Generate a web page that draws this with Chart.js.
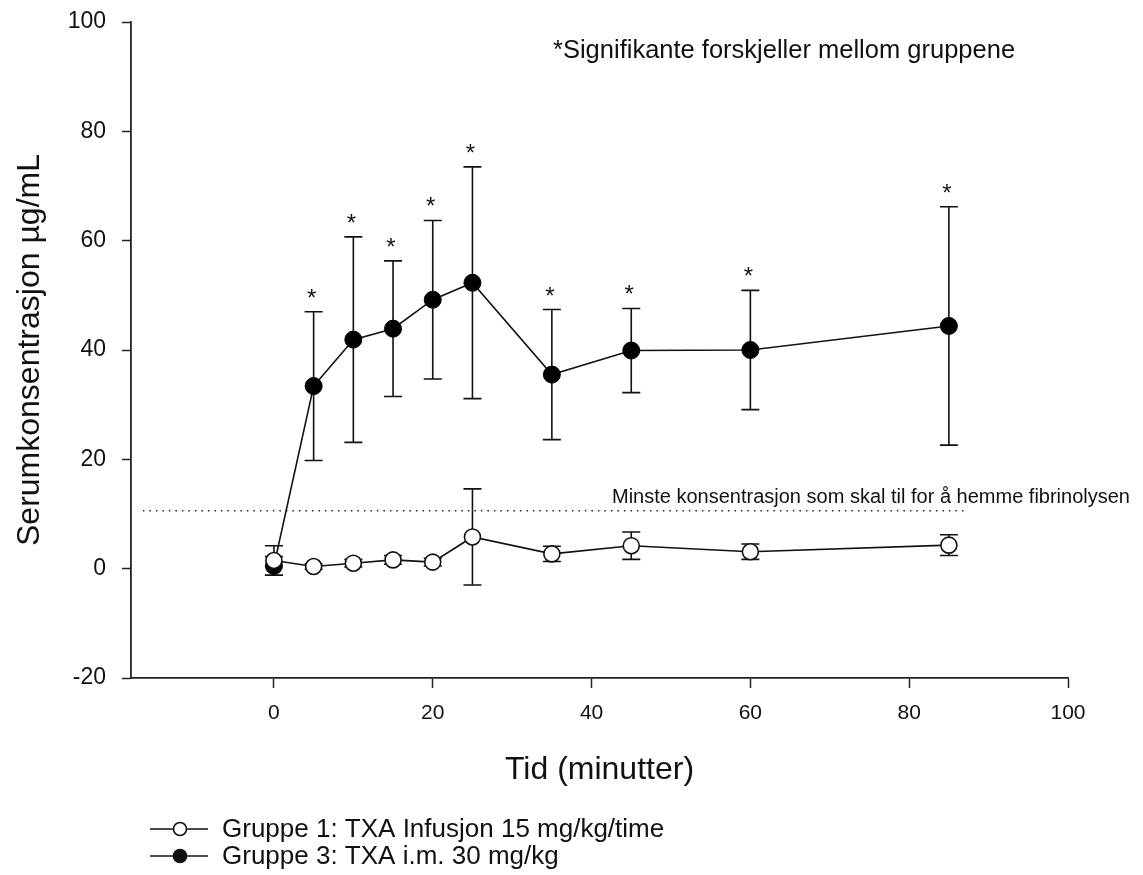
<!DOCTYPE html>
<html>
<head>
<meta charset="utf-8">
<script src="https://cdn.jsdelivr.net/npm/chart.js@4.4.0/dist/chart.umd.min.js"></script>
<style>
  body { margin: 0; background: #fff; }
  #wrap { width: 1143px; height: 875px; }
</style>
</head>
<body>
<div id="wrap"><canvas id="txaChart" width="1143" height="875"></canvas></div>
<script>
// tid (minutter)
const tider = [0, 5, 10, 15, 20, 25, 35, 45, 60, 85];
// Gruppe 1: TXA infusjon
const gruppe1Snitt = [1.5, 0.4, 1.0, 1.6, 1.2, 5.8, 2.7, 4.2, 3.1, 4.3];
const gruppe1Sd = [2.7, 0.5, 0.7, 0.8, 0.7, 8.8, 1.4, 2.5, 1.4, 1.9];
// Gruppe 3: TXA i.m.
const gruppe3Snitt = [0.5, 33.4, 41.9, 43.9, 49.2, 52.3, 35.5, 39.9, 40.0, 44.4];
const gruppe3Sd = [1.7, 13.6, 18.8, 12.4, 14.5, 21.2, 11.9, 7.7, 10.9, 21.8];
// signifikante forskjeller (1 = stjerne)
const signifikant = [0, 1, 1, 1, 1, 1, 1, 1, 1, 1];
// minste konsentrasjon
const terskelVerdi = 10.6;
const terskelFraTil = [-16.5, 87];

const xTicks = [0, 20, 40, 60, 80, 100];
const yTicks = [-20, 0, 20, 40, 60, 80, 100];

const gruppeNavn = [
    'Gruppe 1: TXA Infusjon 15 mg/kg/time',
    'Gruppe 3: TXA i.m. 30 mg/kg'
];
const noteTekst = '*Signifikante forskjeller mellom gruppene';
const terskelTekst = 'Minste konsentrasjon som skal til for å hemme fibrinolysen';

const FONT = '"Liberation Sans", Arial, sans-serif';

function punkter(xs, ys) {
    return xs.map((x, i) => ({ x: x, y: ys[i] }));
}

// feilstolper tegnes under punktene
const errorBarPlugin = {
    id: 'errorBars',
    beforeDatasetsDraw(chart) {
        const ctx = chart.ctx;
        const xs = chart.scales.x;
        const ys = chart.scales.y;
        const sett = [[gruppe3Snitt, gruppe3Sd], [gruppe1Snitt, gruppe1Sd]];
        ctx.save();
        ctx.strokeStyle = '#111';
        ctx.lineWidth = 1.6;
        sett.forEach(([snitt, sd]) => {
            tider.forEach((t, i) => {
                const px = xs.getPixelForValue(t);
                const top = ys.getPixelForValue(snitt[i] + sd[i]);
                const bot = ys.getPixelForValue(snitt[i] - sd[i]);
                ctx.beginPath();
                ctx.moveTo(px, top);
                ctx.lineTo(px, bot);
                ctx.moveTo(px - 9, top);
                ctx.lineTo(px + 9, top);
                ctx.moveTo(px - 9, bot);
                ctx.lineTo(px + 9, bot);
                ctx.stroke();
            });
        });
        ctx.restore();
    }
};

// stjerner, tekster og forklaring
const annotPlugin = {
    id: 'annot',
    afterDraw(chart) {
        const ctx = chart.ctx;
        const xs = chart.scales.x;
        const ys = chart.scales.y;
        ctx.save();
        ctx.fillStyle = '#111';

        // stjerner over gruppe 3
        ctx.font = '24px ' + FONT;
        ctx.textAlign = 'center';
        ctx.textBaseline = 'alphabetic';
        tider.forEach((t, i) => {
            if (!signifikant[i]) return;
            const px = xs.getPixelForValue(t) - 2;
            const top = ys.getPixelForValue(gruppe3Snitt[i] + gruppe3Sd[i]);
            ctx.fillText('*', px, top - 19 + 13);
        });

        // merknad oppe til høyre
        ctx.textAlign = 'left';
        ctx.font = '25.5px ' + FONT;
        ctx.fillText(noteTekst, 553, 58);

        // terskeltekst
        ctx.font = '20px ' + FONT;
        ctx.fillText(terskelTekst, 612, 503);

        // forklaring
        const rader = [829, 856];
        ctx.font = '26px ' + FONT;
        ctx.textBaseline = 'middle';
        rader.forEach((y, i) => {
            ctx.strokeStyle = '#111';
            ctx.lineWidth = 1.6;
            ctx.beginPath();
            ctx.moveTo(150, y);
            ctx.lineTo(208, y);
            ctx.stroke();
            ctx.beginPath();
            ctx.arc(180, y, 6.5, 0, Math.PI * 2);
            ctx.fillStyle = i === 0 ? '#fff' : '#111';
            ctx.fill();
            ctx.stroke();
            ctx.fillStyle = '#111';
            ctx.fillText(gruppeNavn[i], 222, y + 1);
        });
        ctx.restore();
    }
};

const ctx = document.getElementById('txaChart');
new Chart(ctx, {
    type: 'line',
    data: {
        datasets: [
            {
                label: gruppeNavn[0],
                data: punkter(tider, gruppe1Snitt),
                borderColor: '#111',
                borderWidth: 1.6,
                pointRadius: 8,
                pointBorderWidth: 1.6,
                pointBackgroundColor: '#fff',
                pointBorderColor: '#111',
                fill: false,
                tension: 0
            },
            {
                label: gruppeNavn[1],
                data: punkter(tider, gruppe3Snitt),
                borderColor: '#111',
                borderWidth: 1.6,
                pointRadius: 8.5,
                pointBorderWidth: 1,
                pointBackgroundColor: '#000',
                pointBorderColor: '#000',
                fill: false,
                tension: 0
            },
            {
                label: 'terskel',
                data: terskelFraTil.map(x => ({ x: x, y: terskelVerdi })),
                borderColor: '#3a2020',
                borderWidth: 1.5,
                borderDash: [1.5, 5],
                pointRadius: 0,
                fill: false
            }
        ]
    },
    options: {
        responsive: false,
        animation: false,
        events: [],
        layout: {
            padding: { top: 22, right: 75, bottom: 85, left: 0 }
        },
        plugins: {
            legend: { display: false },
            tooltip: { enabled: false }
        },
        scales: {
            x: {
                type: 'linear',
                min: -18,
                max: 100,
                afterBuildTicks: scale => { scale.ticks = xTicks.map(v => ({ value: v })); },
                afterFit: scale => { scale.height = 112; },
                grid: {
                    drawOnChartArea: false,
                    drawTicks: true,
                    tickLength: 10,
                    tickColor: '#222',
                    tickWidth: 1.5
                },
                border: { display: true, color: '#222', width: 1.8 },
                ticks: {
                    color: '#111',
                    padding: 13,
                    maxRotation: 0,
                    font: { family: FONT, size: 21 }
                },
                title: {
                    display: true,
                    text: 'Tid (minutter)',
                    color: '#111',
                    padding: { top: 0, bottom: 1 },
                    font: { family: FONT, size: 32 }
                }
            },
            y: {
                min: -20,
                max: 100,
                afterBuildTicks: scale => { scale.ticks = yTicks.map(v => ({ value: v })); },
                afterFit: scale => {
                    scale.width = 131;
                    scale.paddingTop = 0;
                    scale.paddingBottom = 0;
                },
                grid: {
                    drawOnChartArea: false,
                    drawTicks: true,
                    tickLength: 9,
                    tickColor: '#222',
                    tickWidth: 1.5
                },
                border: { display: true, color: '#222', width: 1.8 },
                ticks: {
                    color: '#111',
                    padding: 16,
                    font: { family: FONT, size: 23 }
                },
                title: {
                    display: true,
                    text: 'Serumkonsentrasjon µg/mL',
                    color: '#111',
                    padding: { top: 11, bottom: 0 },
                    font: { family: FONT, size: 32 }
                }
            }
        }
    },
    plugins: [errorBarPlugin, annotPlugin]
});
</script>
</body>
</html>
